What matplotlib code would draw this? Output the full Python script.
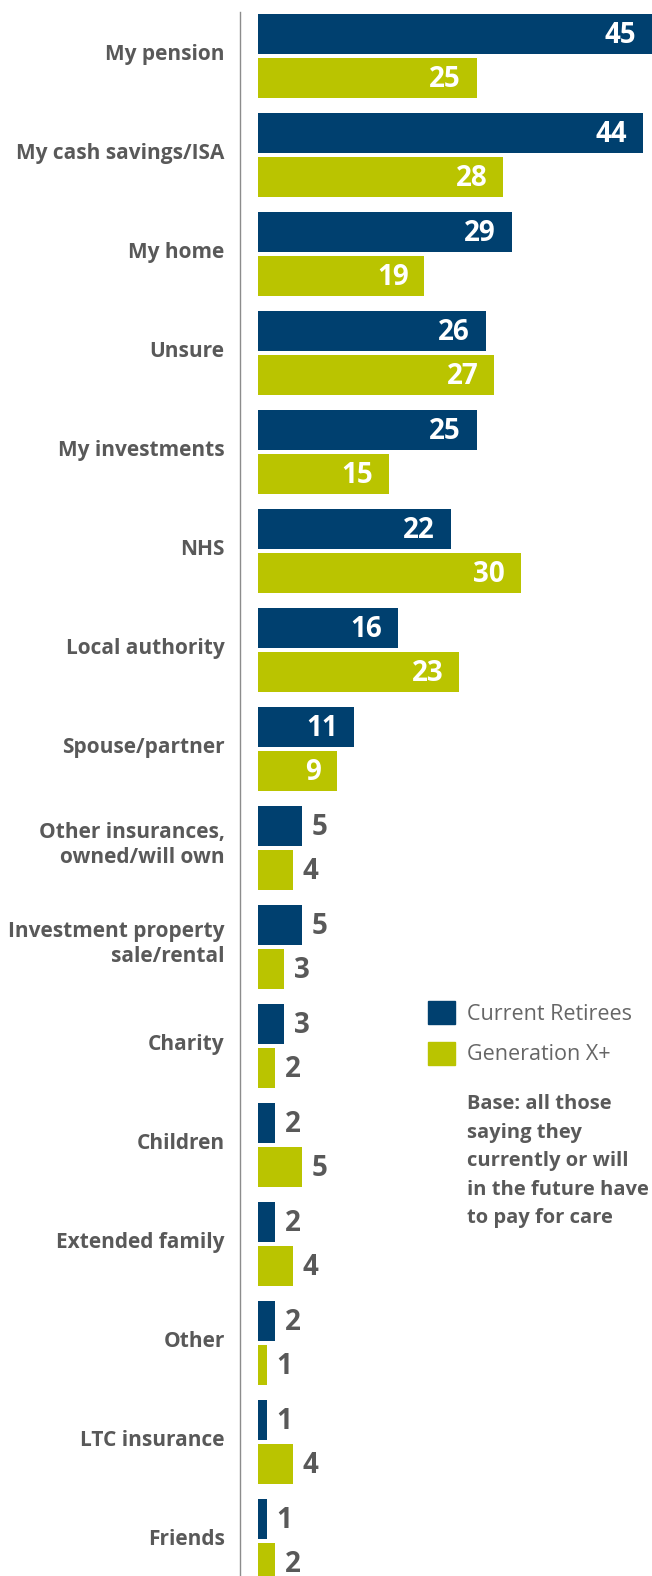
import numpy as np
from matplotlib import pyplot as plt
from matplotlib.patches import Patch

categories = ["My pension", "My cash savings/ISA", "My home", "Unsure", "My investments",
              "NHS", "Local authority", "Spouse/partner", "Other insurances,\nowned/will own",
              "Investment property\nsale/rental", "Charity", "Children", "Extended family",
              "Other", "LTC insurance", "Friends"]
retirees = [45, 44, 29, 26, 25, 22, 16, 11, 5, 5, 3, 2, 2, 2, 1, 1]
gen_x = [25, 28, 19, 27, 15, 30, 23, 9, 4, 3, 2, 5, 4, 1, 4, 2]
series_names = ["Current Retirees", "Generation X+"]
note = "Base: all those\nsaying they\ncurrently or will\nin the future have\nto pay for care"

blue = "#00406f"
green = "#bac400"
grey = "#595959"
font = "Open Sans"

W, H = 652, 1576
fig = plt.figure(figsize=(W / 100, H / 100), dpi=100)
ax = fig.add_axes([240 / W, 0, 412 / W, 1564 / H])

y = np.arange(len(categories))
off = 0.223
bh = 0.405
ax.barh(y - off, retirees, height=bh, color=blue)
ax.barh(y + off, gen_x, height=bh, color=green)

ax.set_xlim(-2.05, 45)
ax.set_ylim(15.35, -0.447)

# value labels: inside in white for long bars, outside in grey for short ones
for vals, ys in [(retirees, y - off), (gen_x, y + off)]:
    for v, yy in zip(vals, ys):
        if v >= 9:
            ax.text(v - 1.8, yy + 0.01, str(v), ha="right", va="center", color="white",
                    fontsize=20, fontweight="bold", family=font)
        else:
            ax.text(v + 1.1, yy + 0.01, str(v), ha="left", va="center", color=grey,
                    fontsize=20, fontweight="bold", family=font)

# two-line labels sit a touch higher than single-line ones
tick_pos = [i - (0.08 if "\n" in c else 0.04) for i, c in enumerate(categories)]
ax.set_yticks(tick_pos)
ax.set_yticklabels(categories, fontsize=15, fontweight="bold", color=grey,
                   family=font, linespacing=1.25)
ax.tick_params(axis="y", length=0, pad=11)
ax.set_xticks([])
for s in ["top", "right", "bottom"]:
    ax.spines[s].set_visible(False)
ax.spines["left"].set_color("#8c8c8c")
ax.spines["left"].set_linewidth(1.0)

handles = [Patch(color=blue), Patch(color=green)]
fig.legend(handles, series_names, loc="upper left", bbox_to_anchor=(428 / W, 1 - 1001 / H),
           frameon=False, prop={"family": font, "size": 15.5},
           handlelength=1.25, handleheight=1.25, handletextpad=0.55, labelspacing=0.8,
           borderpad=0, borderaxespad=0, labelcolor="#666666")

fig.text(467 / W, 1 - 1094 / H, note, ha="left", va="top", fontsize=14.5,
         fontweight="bold", color=grey, family=font, linespacing=1.57)

fig.savefig("out.png", dpi=100)
